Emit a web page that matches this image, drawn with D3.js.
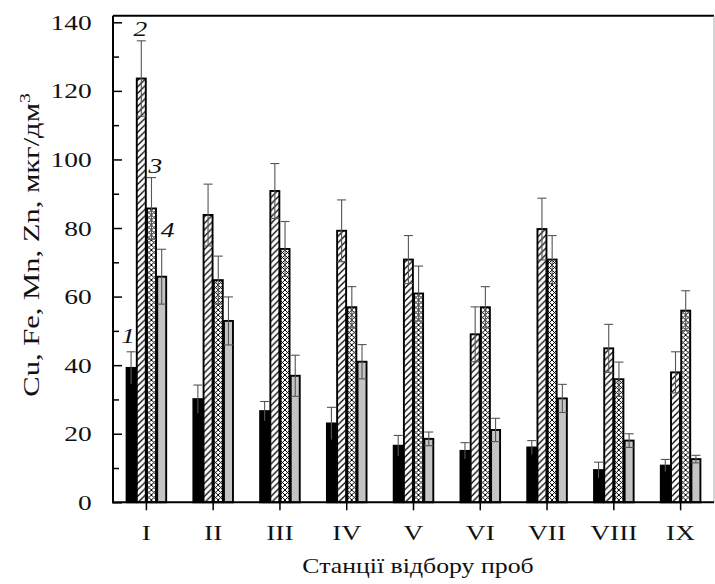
<!DOCTYPE html>
<html>
<head>
<meta charset="utf-8">
<script src="https://cdn.jsdelivr.net/npm/d3@7"></script>
<style>
  body { margin: 0; background: #fff; }
  svg { display: block; }
  text { font-family: "Liberation Serif", "Times New Roman", serif; fill: #111; }
</style>
</head>
<body>
<div id="chart"></div>
<script>
// stations (x categories)
var stations = ['I', 'II', 'III', 'IV', 'V', 'VI', 'VII', 'VIII', 'IX'];
var seriesNames = ['1', '2', '3', '4'];

// concentrations, mkg/dm3 (series 1..4 = Cu, Fe, Mn, Zn)
var cuValues = [39.2, 30.1, 26.6, 23.0, 16.5, 15.0, 16.0, 9.4, 10.7];
var cuErrors = [4.7, 4.1, 2.8, 4.7, 3.0, 2.4, 2.0, 2.3, 1.8];
var feValues = [123.6, 83.8, 90.8, 79.2, 70.8, 49.0, 79.7, 44.9, 37.9];
var feErrors = [11, 9, 8, 9, 7, 8, 9, 7, 6];
var mnValues = [85.7, 64.8, 73.9, 56.9, 60.9, 56.9, 70.8, 35.9, 55.9];
var mnErrors = [9, 7, 8, 6, 8, 6, 7, 5, 5.8];
var znValues = [65.8, 52.9, 36.9, 41.0, 18.5, 21.1, 30.3, 18.0, 12.6];
var znErrors = [8, 7, 6, 5, 2, 3.4, 4.1, 2, 1.1];

var yTicks = [0, 20, 40, 60, 80, 100, 120, 140];
var yMinorTicks = [10, 30, 50, 70, 90, 110, 130];

var width = 715, height = 584;
var plotLeft = 113, plotRight = 714, plotBottom = 502.3, plotTop = 22.3;
var stretch = 1.25; // the glyphs in the original are wide

var svg = d3.select('#chart').append('svg')
    .attr('width', width)
    .attr('height', height);

var defs = svg.append('defs');

var hatch = defs.append('pattern')
    .attr('id', 'hatch')
    .attr('patternUnits', 'userSpaceOnUse')
    .attr('width', 6.5).attr('height', 6.5);
hatch.append('rect').attr('width', 6.5).attr('height', 6.5).attr('fill', '#fff');
hatch.append('path')
    .attr('d', 'M0,6.5 L6.5,0 M-1,1 L1,-1 M5.5,7.5 L7.5,5.5')
    .attr('stroke', '#000').attr('stroke-width', 1.3);

var cross = defs.append('pattern')
    .attr('id', 'cross')
    .attr('patternUnits', 'userSpaceOnUse')
    .attr('width', 5).attr('height', 5);
cross.append('rect').attr('width', 5).attr('height', 5).attr('fill', '#fff');
cross.append('path')
    .attr('d', 'M0,5 L5,0 M-1,1 L1,-1 M4,6 L6,4 M0,0 L5,5 M-1,4 L1,6 M4,-1 L6,1')
    .attr('stroke', '#000').attr('stroke-width', 1);

var fills = ['#000', 'url(#hatch)', 'url(#cross)', '#c4c4c4'];

// data table
var data = stations.map(function(s, i) {
    return {
        station: s,
        bars: [
            {key: '1', value: cuValues[i], err: cuErrors[i]},
            {key: '2', value: feValues[i], err: feErrors[i]},
            {key: '3', value: mnValues[i], err: mnErrors[i]},
            {key: '4', value: znValues[i], err: znErrors[i]}
        ]
    };
});

var x = d3.scaleBand().domain(stations).range([plotLeft, plotRight]).padding(0);
var xInner = d3.scaleBand().domain(seriesNames).range([-20.4, 20.4]).padding(0);
var y = d3.scaleLinear().domain([0, 140]).range([plotBottom, plotTop]);

var cx = function(s) { return x(s) + x.bandwidth() / 2; };

// bars
var groups = svg.append('g').attr('class', 'bars')
    .selectAll('g').data(data).enter().append('g')
    .attr('transform', function(d) { return 'translate(' + cx(d.station) + ',0)'; });

groups.selectAll('rect').data(function(d) { return d.bars; }).enter().append('rect')
    .attr('x', function(d) { return xInner(d.key) + 0.6; })
    .attr('width', xInner.bandwidth() - 1.2)
    .attr('y', function(d) { return y(d.value); })
    .attr('height', function(d) { return y(0) - y(d.value); })
    .attr('fill', function(d, i) { return fills[i]; })
    .attr('stroke', '#000')
    .attr('stroke-width', 1.9);

// error bars
var capW = 4.5;
var err = groups.selectAll('g.err').data(function(d) { return d.bars; }).enter().append('g')
    .attr('class', 'err')
    .attr('transform', function(d) { return 'translate(' + (xInner(d.key) + xInner.bandwidth() / 2) + ',0)'; })
    .attr('stroke', '#555')
    .attr('stroke-width', 1.1);
err.append('line')
    .attr('y1', function(d) { return y(d.value - d.err); })
    .attr('y2', function(d) { return y(d.value + d.err); });
err.append('line')
    .attr('x1', -capW).attr('x2', capW)
    .attr('y1', function(d) { return y(d.value + d.err); })
    .attr('y2', function(d) { return y(d.value + d.err); });
err.filter(function(d) { return d.key !== '1'; }).append('line')
    .attr('x1', -capW).attr('x2', capW)
    .attr('y1', function(d) { return y(d.value - d.err); })
    .attr('y2', function(d) { return y(d.value - d.err); });

// frame
svg.append('line')
    .attr('x1', plotLeft).attr('x2', plotRight)
    .attr('y1', y(141.9)).attr('y2', y(141.9))
    .attr('stroke', '#000').attr('stroke-width', 2);
svg.append('line')
    .attr('x1', plotRight).attr('x2', plotRight)
    .attr('y1', y(141.9)).attr('y2', y(0))
    .attr('stroke', '#aaa').attr('stroke-width', 1);
svg.append('line')
    .attr('x1', plotLeft).attr('x2', plotLeft)
    .attr('y1', y(141.9)).attr('y2', y(0) + 1)
    .attr('stroke', '#000').attr('stroke-width', 2);
svg.append('line')
    .attr('x1', plotLeft - 1).attr('x2', plotRight)
    .attr('y1', y(0)).attr('y2', y(0))
    .attr('stroke', '#000').attr('stroke-width', 2);

// y axis
var yAxis = d3.axisLeft(y).tickValues(yTicks).tickSizeInner(-9).tickSizeOuter(0).tickPadding(17);
var gy = svg.append('g').attr('transform', 'translate(' + plotLeft + ',0)').call(yAxis);
gy.select('.domain').remove();
gy.selectAll('line').attr('stroke', '#000').attr('stroke-width', 1.5);
gy.selectAll('text')
    .attr('font-size', 22)
    .attr('font-family', '"Liberation Serif", serif')
    .attr('fill', '#111')
    .attr('transform', 'scale(' + stretch + ',1)');

var yMinor = d3.axisLeft(y).tickValues(yMinorTicks).tickSizeInner(-6).tickSizeOuter(0).tickFormat('');
var gyMinor = svg.append('g').attr('transform', 'translate(' + plotLeft + ',0)').call(yMinor);
gyMinor.select('.domain').remove();
gyMinor.selectAll('line').attr('stroke', '#000').attr('stroke-width', 1.5);

// x axis
var xAxis = d3.axisBottom(x).tickSizeInner(8).tickSizeOuter(0).tickPadding(14);
var gx = svg.append('g').attr('transform', 'translate(0,' + y(0) + ')').call(xAxis);
gx.select('.domain').remove();
gx.selectAll('line').attr('stroke', '#000').attr('stroke-width', 1.5);
gx.selectAll('text')
    .attr('font-size', 22)
    .attr('font-family', '"Liberation Serif", serif')
    .attr('fill', '#111')
    .attr('transform', 'scale(' + stretch + ',1)');

// axis titles
svg.append('text')
    .attr('transform', 'translate(418,573) scale(1.2,1)')
    .attr('text-anchor', 'middle')
    .attr('font-size', 21.5)
    .text('Станції відбору проб');

var yTitle = svg.append('text')
    .attr('transform', 'translate(39,245) rotate(-90) scale(1.3,1)')
    .attr('text-anchor', 'middle')
    .attr('font-size', 23.5);
yTitle.append('tspan').text('Cu, Fe, Mn, Zn, мкг/дм');
yTitle.append('tspan').attr('font-size', 15).attr('dy', -9).text('3');

// series numbers next to station I
var first = data[0];
var labelOffsets = [[-3, -9], [-1, -5], [4, -5], [6, -12]];
svg.append('g').selectAll('text').data(first.bars).enter().append('text')
    .attr('transform', function(d, i) {
        var px = cx(first.station) + xInner(d.key) + xInner.bandwidth() / 2 + labelOffsets[i][0];
        var py = y(d.value + d.err) + labelOffsets[i][1];
        return 'translate(' + px + ',' + py + ') scale(' + stretch + ',1)';
    })
    .attr('text-anchor', 'middle')
    .attr('font-size', 22)
    .attr('font-style', 'italic')
    .text(function(d) { return d.key; });
</script>
</body>
</html>
